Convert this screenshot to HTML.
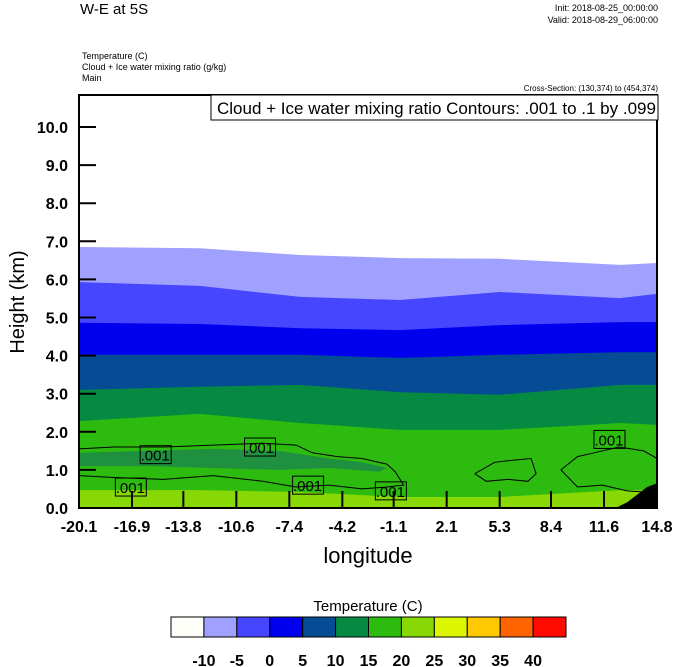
<!DOCTYPE html>
<html><head><meta charset="utf-8"><style>
body{margin:0;background:#fff;}
svg{display:block;font-family:"Liberation Sans",sans-serif;}
</style></head><body>
<svg id="chart" width="674" height="667" viewBox="0 0 674 667">
<text x="80" y="14" font-size="15">W-E at 5S</text>
<text x="658" y="11" font-size="9" text-anchor="end">Init: 2018-08-25_00:00:00</text>
<text x="658" y="23" font-size="9" text-anchor="end">Valid: 2018-08-29_06:00:00</text>
<text x="82" y="59" font-size="9">Temperature   (C)</text>
<text x="82" y="70" font-size="9">Cloud + Ice water mixing ratio   (g/kg)</text>
<text x="82" y="81" font-size="9">Main</text>
<text x="658" y="91" font-size="8" text-anchor="end">Cross-Section: (130,374) to (454,374)</text>
<g id="plot"></g>
<rect x="211" y="95" width="447" height="25" fill="#fff" stroke="#000" stroke-width="1"/>
<text x="217" y="114" font-size="17">Cloud + Ice water mixing ratio Contours: .001 to .1 by .099</text>
<text x="24" y="302" font-size="20" text-anchor="middle" transform="rotate(-90 24 302)">Height (km)</text>
<text x="368" y="563" font-size="22" text-anchor="middle">longitude</text>
<text x="368" y="611" font-size="15" text-anchor="middle">Temperature  (C)</text>
<g id="cbar"></g>
</svg>
<script>
const lonPts=[-20.1,-12.8,-6.75,-0.72,5.32,12.57,14.8];
const bTop=[6.85,6.82,6.64,6.56,6.54,6.38,6.43];
const b2=[5.93,5.83,5.54,5.46,5.67,5.51,5.62];
const b3=[4.86,4.83,4.72,4.67,4.80,4.88,4.88];
const b4=[4.02,4.02,4.02,3.94,4.02,4.09,4.09];
const b5=[3.10,3.18,3.23,3.04,2.97,3.23,3.23];
const b6=[2.28,2.47,2.23,2.05,2.05,2.23,2.18];
const b7=[0.47,0.47,0.42,0.29,0.29,0.47,0.47];
const bandColors=["#a0a0ff","#4646ff","#0000ee","#054c94","#068a42","#2dbb10","#88d806"];
const xTicks=[-20.1,-16.9,-13.8,-10.6,-7.4,-4.2,-1.1,2.1,5.3,8.4,11.6,14.8];
const yTicks=[0,1,2,3,4,5,6,7,8,9,10];
const cloudLon=[-20.1,-16,-12,-8,-5,-3,-1.5,-2,-5,-8,-12,-16,-20.1];
const cloudHt=[1.45,1.5,1.55,1.5,1.3,1.2,1.05,0.95,1.05,1.0,1.05,1.1,1.1];
const terrLon=[12.3,13.0,13.6,14.2,14.8,14.8];
const terrHt=[0,0.15,0.35,0.55,0.65,0];
const contourLon=[-20.1,-18,-15,-12,-9,-7,-6,-4.5,-3,-1.5,-1,-0.5,-1.5,-3,-5,-7,-9,-12,-15,-18,-20.1];
const contourHt=[1.55,1.6,1.6,1.65,1.7,1.65,1.45,1.35,1.3,1.15,0.95,0.6,0.55,0.5,0.6,0.55,0.7,0.85,0.75,0.8,0.85];
const contour2Lon=[3.8,5,6,7.2,7.5,7,5.8,4.5,3.8];
const contour2Ht=[0.9,1.2,1.25,1.3,0.9,0.7,0.75,0.7,0.9];
const contour3Lon=[9,10,11,12.5,14,14.8,14.8,13,11.5,10,9];
const contour3Ht=[1.0,1.35,1.45,1.6,1.5,1.3,0.4,0.45,0.6,0.55,1.0];
const labLon=[-17.0,-15.5,-9.2,-6.3,-1.3,11.9];
const labHt=[0.55,1.4,1.6,0.6,0.45,1.8];
const cbLabels=["-10","-5","0","5","10","15","20","25","30","35","40"];
const cbColors=["#fffffa","#a0a0ff","#4646ff","#0000ee","#054c94","#068a42","#2dbb10","#88d806","#dcf500","#ffc800","#ff6400","#ff0a00"];

const X0=79,X1=657,Y0=508,PX=38.1;
const xs=l=>X0+(l-(-20.1))/34.9*(X1-X0);
const ys=h=>Y0-h*PX;
const NS="http://www.w3.org/2000/svg";
const plot=document.getElementById('plot');
function mk(tag,attrs,parent){const e=document.createElementNS(NS,tag);for(const k in attrs)e.setAttribute(k,attrs[k]);(parent||plot).appendChild(e);return e;}
function line(lons,hts){return lons.map((l,i)=>xs(l).toFixed(1)+","+ys(hts[i]).toFixed(1)).join(" ");}
const clip=mk('clipPath',{id:'pc'});mk('rect',{x:X0,y:95,width:X1-X0,height:Y0-95},clip);
const g=mk('g',{'clip-path':'url(#pc)'});
const bg=mk('rect',{x:X0,y:95,width:X1-X0,height:Y0-95,fill:"#fff"},g);


const bounds=[bTop,b2,b3,b4,b5,b6,b7];
const names=["band-minus10-minus5","band-minus5-0","band-0-5","band-5-10","band-10-15","band-15-20","band-20-25"];
bounds.forEach((b,i)=>{
  const pts=line(lonPts,b)+" "+xs(14.8)+","+Y0+" "+xs(-20.1)+","+Y0;
  const p=mk('polygon',{points:pts,fill:bandColors[i]},g);
  
  
});
const cl=mk('polygon',{points:line(cloudLon,cloudHt),fill:"#1f8f40"},g);


[[contourLon,contourHt],[contour2Lon,contour2Ht],[contour3Lon,contour3Ht]].forEach((c,i)=>{
  const p=mk('polyline',{points:line(c[0],c[1]),fill:"none",stroke:"#000","stroke-width":1},g);
  
  
});
const t=mk('polygon',{points:line(terrLon,terrHt),fill:"#000"},g);


labLon.forEach((l,i)=>{
  const cx=xs(l),cy=ys(labHt[i]);
  const r=mk('rect',{x:cx-15,y:cy-9,width:31,height:18,fill:"none",stroke:"#000"},g);
  
  
  const tx=mk('text',{x:cx,y:cy+6,'font-size':15,'text-anchor':'middle'},g);
  tx.textContent=".001";
  
  
});
const ax=mk('rect',{x:X0,y:95,width:X1-X0,height:Y0-95,fill:"none",stroke:"#000","stroke-width":2});


xTicks.forEach(v=>{
  const x=xs(v);
  const tk=mk('line',{x1:x,x2:x,y1:Y0,y2:Y0-17,stroke:"#000","stroke-width":2});
  
  
  const tx=mk('text',{x:x,y:532,'font-size':16,'font-weight':'bold','text-anchor':'middle'});
  tx.textContent=v.toFixed(1);
  
  
});
yTicks.forEach(v=>{
  const y=ys(v);
  const tk=mk('line',{x1:X0,x2:X0+17,y1:y,y2:y,stroke:"#000","stroke-width":2});
  
  
  const tx=mk('text',{x:68,y:y+6,'font-size':16,'font-weight':'bold','text-anchor':'end'});
  tx.textContent=v.toFixed(1);
  
  
});
const cb=document.getElementById('cbar');
const CB0=171,CBW=395/cbColors.length;
cbColors.forEach((c,i)=>{
  const r=mk('rect',{x:CB0+i*CBW,y:617,width:CBW,height:20,fill:c,stroke:"#000","stroke-width":1},cb);
  
  
});
cbLabels.forEach((s,i)=>{
  const tx=mk('text',{x:CB0+(i+1)*CBW,y:666,'font-size':16,'font-weight':'bold','text-anchor':'middle'},cb);
  tx.textContent=s;
  
  
});
</script>
</body></html>
